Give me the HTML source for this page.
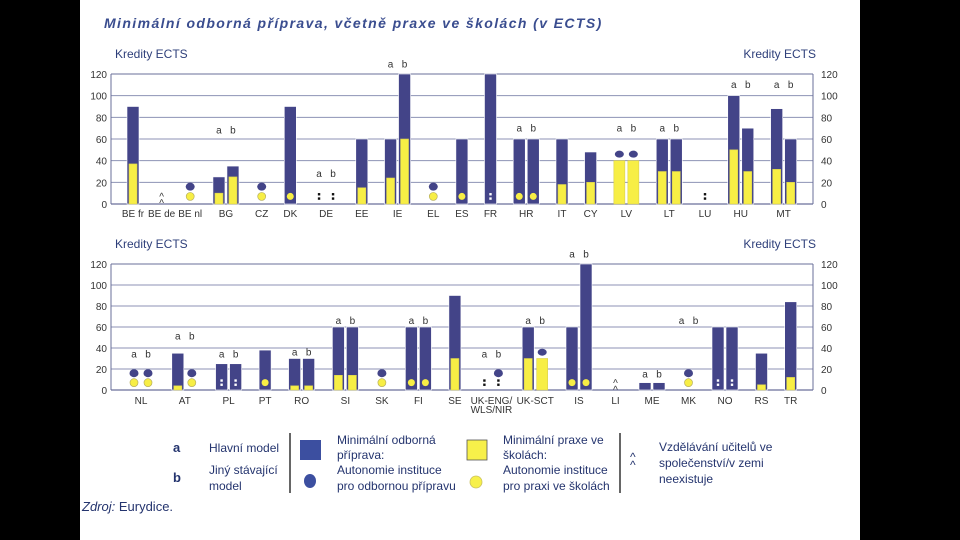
<!DOCTYPE html>
<html><head><meta charset="utf-8">
<style>
html,body{margin:0;padding:0;background:#000;}
#page{position:absolute;left:80px;top:0;width:780px;height:540px;background:#fff;}
svg{position:absolute;left:0;top:0;}
text{font-family:"Liberation Sans",sans-serif;}
</style></head>
<body>
<div id="page"></div>
<svg id="svg" width="960" height="540">
<text x="104" y="28" font-size="14" font-weight="bold" font-style="italic" fill="#3a4d8f" letter-spacing="1.4">Minimální odborná příprava, včetně praxe ve školách (v ECTS)</text>
<g id="top"></g>
<g id="bot"></g>
<g font-size="12" fill="#24346e">
<text x="173" y="452" font-weight="bold" font-size="13">a</text>
<text x="209" y="452">Hlavní model</text>
<text x="173" y="482" font-weight="bold" font-size="13">b</text>
<text x="209" y="474">Jiný stávající</text>
<text x="209" y="490">model</text>
<line x1="290" y1="433" x2="290" y2="493" stroke="#000" stroke-width="1.2"/>
<rect x="300" y="440" width="21" height="20" fill="#3c4fa0"/>
<text x="337" y="444">Minimální odborná</text>
<text x="337" y="459">příprava:</text>
<text x="337" y="474">Autonomie instituce</text>
<text x="337" y="490">pro odbornou přípravu</text>
<ellipse cx="310" cy="481" rx="6" ry="7" fill="#3c4fa0"/>
<rect x="467" y="440" width="20" height="20" fill="#f7f04a" stroke="#555" stroke-width="0.8"/>
<text x="503" y="444">Minimální praxe ve</text>
<text x="503" y="459">školách:</text>
<text x="503" y="474">Autonomie instituce</text>
<text x="503" y="490">pro praxi ve školách</text>
<circle cx="476" cy="482" r="6" fill="#f7f04a" stroke="#c9c060" stroke-width="0.8"/>
<line x1="620" y1="433" x2="620" y2="493" stroke="#000" stroke-width="1.2"/>
<text x="630" y="461" font-size="12">^</text>
<text x="630" y="469" font-size="12">^</text>
<text x="659" y="451">Vzdělávání učitelů ve</text>
<text x="659" y="467">společenství/v zemi</text>
<text x="659" y="483">neexistuje</text>
</g>
<text x="82" y="511" font-size="13" fill="#24346e"><tspan font-style="italic">Zdroj:</tspan> Eurydice.</text>
</svg>
<script>
const topCats=['BE fr','BE de','BE nl','BG','CZ','DK','DE','EE','IE','EL','ES','FR','HR','IT','CY','LV','LT','LU','HU','MT'];
const topBarCat=[0,1,2,3,3,4,5,6,6,7,8,8,9,10,11,12,12,13,14,15,15,16,16,17,18,18,19,19];
const topBlue=[90,0,0,25,35,0,90,0,0,60,60,120,0,60,120,60,60,60,48,0,0,60,60,0,100,70,88,60];
const topYellow=[37,0,0,10,25,0,0,0,0,15,24,60,0,0,0,0,0,18,20,40,40,30,30,0,50,30,32,20];
const topMark=['','caret','dotcircle','','','dotcircle','ydot','colon','colon','','','','dotcircle','ydot','wcolon','ydot','ydot','','','dot','dot','','','colon','','','',''];
const topLabelLevel=[null,null,null,65,null,null,25,null,126,null,null,null,67,null,null,67,67,null,107,107];

const botCats=['NL','AT','PL','PT','RO','SI','SK','FI','SE','UK-ENG/|WLS/NIR','UK-SCT','IS','LI','ME','MK','NO','RS','TR'];
const botBarCat=[0,0,1,1,2,2,3,4,4,5,5,6,7,7,8,9,9,10,10,11,11,12,13,13,14,15,15,16,17];
const botBlue=[0,0,35,0,25,25,38,30,30,60,60,0,60,60,90,0,0,60,0,60,120,0,7,7,0,60,60,35,84];
const botYellow=[0,0,4,0,0,0,0,4,4,14,14,0,0,0,30,0,0,30,30,0,0,0,0,0,0,0,0,5,12];
const botMark=['dotcircle','dotcircle','','dotcircle','wcolon','wcolon','ydot','','','','','dotcircle','ydot','ydot','','colon','colondot','','dot','ydot','ydot','caret','','','dotcircle','wcolon','wcolon','',''];
const botLabelLevel=[31,48,31,null,33,63,null,63,null,31,63,126,null,12,63,null,null];
const yTicks=[0,20,40,60,80,100,120];

const NS='http://www.w3.org/2000/svg';
const BLUE='#434488', YEL='#f7ee45';
function mk(p,tag,attrs,txt){const e=document.createElementNS(NS,tag);for(const k in attrs)e.setAttribute(k,attrs[k]);if(txt!==undefined)e.textContent=txt;p.appendChild(e);return e;}

function draw(gId,cats,barCat,blue,yellow,mark,labelLevel,x0,step,y0,y120,labY){
  const g=document.getElementById(gId);
  const L=111,R=813;
  const ys=v=>y0-(y0-y120)*v/120;
  yTicks.forEach(t=>{
    const y=ys(t);
    const gl=mk(g,'line',{x1:L,x2:R,y1:y,y2:y,stroke:t===0||t===120?'#6a6f9a':'#8d92b4','stroke-width':t===0?1.2:1});
    
    
    const lt=mk(g,'text',{x:107,y:y+4,'font-size':10,'text-anchor':'end',fill:'#333'},String(t));
    
    
    const rt=mk(g,'text',{x:821,y:y+4,'font-size':10,fill:'#333'},String(t));
    
    
  });
  const ax1=mk(g,'line',{x1:L,x2:L,y1:y120,y2:y0,stroke:'#6a6f9a'});
  
  
  const ax2=mk(g,'line',{x1:R,x2:R,y1:y120,y2:y0,stroke:'#6a6f9a'});
  
  
  const t1=mk(g,'text',{x:115,y:y120-16,'font-size':12,fill:'#2e3f7a'},'Kredity ECTS');
  
  
  const t2=mk(g,'text',{x:816,y:y120-16,'font-size':12,fill:'#2e3f7a','text-anchor':'end'},'Kredity ECTS');
  
  
  const cnt=cats.map((c,i)=>barCat.filter(b=>b===i).length);
  const w=cnt.map(n=>n>1?1.5:1);
  const cx=[];let x=x0;
  cats.forEach((c,i)=>{if(i>0)x+=step*(w[i-1]+w[i]);cx.push(x);});
  cats.forEach((c,i)=>{
    const lines=c.split('|');
    lines.forEach((ln,k)=>{
      const ct=mk(g,'text',{x:cx[i],y:labY+k*9,'font-size':10,'text-anchor':'middle',fill:'#333'},ln);
      
      
    });
    if(labelLevel[i]!=null){
      ['a','b'].forEach((s,k)=>{
        const at=mk(g,'text',{x:cx[i]+(k?7:-7),y:ys(labelLevel[i]),'font-size':10,'text-anchor':'middle',fill:'#333'},s);
        
        
      });
    }
  });
  const seen={};
  barCat.forEach((ci,j)=>{
    let bx=cx[ci];
    if(cnt[ci]>1){const k=seen[ci]||0;seen[ci]=k+1;bx+=k?7:-7;}
    if(blue[j]>0){
      const r=mk(g,'rect',{x:bx-6,y:ys(blue[j]),width:12,height:ys(0)-ys(blue[j]),fill:BLUE,stroke:'#fff','stroke-width':0.6});
      
      
    }
    if(yellow[j]>0){
      const wd=blue[j]>0?8:11;
      const r=mk(g,'rect',{x:bx-wd/2,y:ys(yellow[j]),width:wd,height:ys(0)-ys(yellow[j]),fill:YEL,stroke:'#d8cf50','stroke-width':0.6});
      
      
    }
    const m=mark[j];
    if(m==='dotcircle'){
      const d=mk(g,'ellipse',{cx:bx,cy:ys(16),rx:4.5,ry:4,fill:BLUE});
      
      
      const c=mk(g,'circle',{cx:bx,cy:ys(7),r:4,fill:YEL,stroke:'#b8b060','stroke-width':0.7});
      
      
    } else if(m==='ydot'){
      const c=mk(g,'circle',{cx:bx,cy:ys(7),r:3.5,fill:YEL});
      
      
    } else if(m==='dot'){
      const d=mk(g,'ellipse',{cx:bx,cy:ys(Math.max(yellow[j],blue[j])+6),rx:4.5,ry:3.5,fill:BLUE});
      
      
    } else if(m==='colon'||m==='wcolon'||m==='colondot'){
      const col=m==='wcolon'?'#fff':'#111';
      [5,9].forEach(v=>{
        const d=mk(g,'rect',{x:bx-1.2,y:ys(v)-1.2,width:2.4,height:2.4,fill:col});
        
        
      });
      if(m==='colondot'){
        const d=mk(g,'ellipse',{cx:bx,cy:ys(16),rx:4.5,ry:4,fill:BLUE});
        
        
      }
    } else if(m==='caret'){
      [10,4].forEach(v=>{
        const t=mk(g,'text',{x:bx,y:ys(v)+7,'font-size':10,'text-anchor':'middle',fill:'#333'},'^');
        
        
      });
    }
  });
}
draw('top',topCats,topBarCat,topBlue,topYellow,topMark,topLabelLevel,133,14.3,204,74,217);
draw('bot',botCats,botBarCat,botBlue,botYellow,botMark,botLabelLevel,141,14.6,390,264,404);
</script>
</body></html>
